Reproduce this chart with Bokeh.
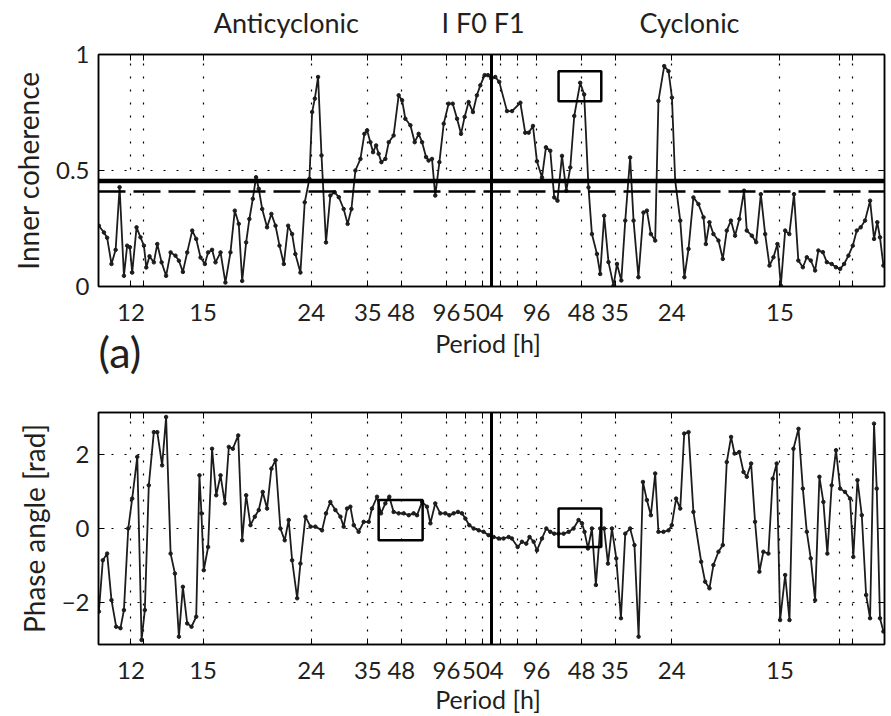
import math
from bokeh.plotting import figure
from bokeh.models import Range1d, FixedTicker, LinearAxis, Span, CustomJSTickFormatter
from bokeh.layouts import column
from bokeh.core.properties import value
from bokeh.embed import file_html
from bokeh.resources import INLINE

# ---------------- data (frequency in cycles per day; negative = anticyclonic) ----------------
coh_freq = [-2.178, -2.150, -2.132, -2.108, -2.085, -2.063, -2.039, -2.021, -2.006, -1.993, -1.969, -1.947,
            -1.928, -1.915, -1.897, -1.873, -1.854, -1.830, -1.805, -1.780, -1.753, -1.734, -1.712, -1.688,
            -1.660, -1.638, -1.614, -1.590, -1.572, -1.550, -1.531, -1.503, -1.476, -1.448, -1.424, -1.402,
            -1.383, -1.361, -1.343, -1.324, -1.306, -1.291, -1.272, -1.245, -1.221, -1.198, -1.176, -1.152,
            -1.128, -1.106, -1.088, -1.060,
            -1.036, -1.010, -0.995, -0.980, -0.962, -0.943, -0.918, -0.894, -0.870, -0.847, -0.820, -0.798,
            -0.777, -0.755, -0.727, -0.705, -0.690, -0.672, -0.657, -0.640, -0.626, -0.611, -0.589, -0.570,
            -0.543, -0.515, -0.496, -0.478, -0.450, -0.426, -0.404, -0.385, -0.363, -0.349, -0.330, -0.312,
            -0.289, -0.265, -0.238, -0.215, -0.191, -0.169, -0.149, -0.127, -0.103, -0.081, -0.062, -0.038,
            -0.020, -0.001, 0.021, 0.043,
            0.086, 0.114, 0.160, 0.187, 0.206, 0.230, 0.252, 0.280, 0.302, 0.326, 0.348, 0.366, 0.391, 0.415,
            0.437, 0.459, 0.492, 0.514, 0.538, 0.557, 0.585, 0.603, 0.625, 0.649, 0.677, 0.696, 0.720, 0.742,
            0.769, 0.788, 0.815, 0.843, 0.862, 0.884, 0.908, 0.926, 0.958, 0.982, 1.001, 1.019, 1.047, 1.070,
            1.093, 1.120, 1.148, 1.176, 1.189, 1.209, 1.231, 1.259, 1.283, 1.305, 1.328, 1.351, 1.375, 1.401,
            1.416, 1.444, 1.468, 1.494, 1.518, 1.542, 1.564, 1.586, 1.605, 1.629, 1.652, 1.678, 1.702, 1.727,
            1.749, 1.771, 1.795, 1.813, 1.838, 1.860, 1.887, 1.911, 1.934, 1.956, 1.980, 2.004, 2.026, 2.048,
            2.072, 2.100, 2.122, 2.140, 2.155, 2.174]
coh_val = [0.262, 0.233, 0.21, 0.097, 0.158, 0.428, 0.046, 0.176, 0.169, 0.06, 0.255, 0.212,
           0.176, 0.082, 0.13, 0.104, 0.183, 0.104, 0.046, 0.147, 0.133, 0.111, 0.063, 0.147,
           0.241, 0.205, 0.125, 0.097, 0.147, 0.158, 0.104, 0.147, 0.017, 0.147, 0.327, 0.27,
           0.024, 0.19, 0.291, 0.378, 0.471, 0.421, 0.334, 0.255, 0.313, 0.262, 0.176, 0.097,
           0.262, 0.226, 0.14, 0.06,
           0.363, 0.464, 0.752, 0.81, 0.903, 0.565, 0.19, 0.392, 0.406, 0.385, 0.334, 0.27,
           0.334, 0.5, 0.55, 0.658, 0.673, 0.622, 0.579, 0.608, 0.572, 0.536, 0.55, 0.622,
           0.651, 0.824, 0.803, 0.723, 0.695, 0.622, 0.658, 0.622, 0.558, 0.543, 0.55, 0.392,
           0.536, 0.702, 0.788, 0.788, 0.723, 0.658, 0.731, 0.795, 0.752, 0.824, 0.867, 0.911,
           0.911, 0.896, 0.903, 0.882,
           0.756, 0.756, 0.792, 0.663, 0.663, 0.692, 0.54, 0.47, 0.6, 0.585, 0.384, 0.37, 0.563, 0.413,
           0.513, 0.735, 0.878, 0.828, 0.427, 0.226, 0.14, 0.054, 0.305, 0.105, 0.004, 0.097, 0.026, 0.284,
           0.556, 0.284, 0.04, 0.319, 0.327, 0.226, 0.198, 0.8, 0.95, 0.928, 0.814, 0.456, 0.284, 0.04,
           0.162, 0.384, 0.355, 0.298, 0.183, 0.277, 0.226, 0.198, 0.119, 0.241, 0.284, 0.219, 0.291, 0.413,
           0.241, 0.219, 0.191, 0.398, 0.226, 0.09, 0.126, 0.183, 0.004, 0.241, 0.226, 0.398, 0.112, 0.083,
           0.126, 0.112, 0.069, 0.155, 0.148, 0.105, 0.097, 0.083, 0.076, 0.097, 0.133, 0.176, 0.241, 0.255,
           0.284, 0.37, 0.205, 0.277, 0.212, 0.09]

phase_freq = [-2.178, -2.156, -2.132, -2.108, -2.082, -2.058, -2.039, -2.015, -1.993, -1.965, -1.941, -1.923,
              -1.901, -1.873, -1.854, -1.827, -1.805, -1.780, -1.756, -1.734, -1.712, -1.688, -1.664, -1.638,
              -1.620, -1.609, -1.596, -1.572, -1.550, -1.527, -1.503, -1.479, -1.457, -1.435, -1.405, -1.383,
              -1.361, -1.337, -1.313, -1.291, -1.269, -1.245, -1.221, -1.198, -1.171, -1.147, -1.125, -1.106,
              -1.078, -1.060, -1.032, -1.004, -0.977, -0.940, -0.918, -0.894, -0.866, -0.838, -0.820, -0.801,
              -0.783, -0.764, -0.737, -0.709, -0.681, -0.663, -0.635, -0.613, -0.589, -0.567, -0.543, -0.515,
              -0.487, -0.459, -0.432, -0.413, -0.385, -0.358, -0.339, -0.312, -0.284, -0.256, -0.234, -0.210,
              -0.186, -0.164, -0.145, -0.123, -0.099, -0.071, -0.044, -0.016, 0.012, 0.040, 0.067, 0.095,
              0.113, 0.145, 0.169, 0.193, 0.211, 0.234, 0.252, 0.280, 0.304, 0.326, 0.348, 0.372,
              0.400, 0.428, 0.455, 0.483, 0.502, 0.516, 0.535, 0.557, 0.579, 0.603, 0.625, 0.646,
              0.668, 0.692, 0.718, 0.742, 0.769, 0.793, 0.816, 0.840, 0.862, 0.884, 0.908, 0.926,
              0.954, 0.982, 1.000, 1.024, 1.047, 1.069, 1.093, 1.120, 1.163, 1.185, 1.209, 1.231,
              1.259, 1.283, 1.305, 1.329, 1.348, 1.374, 1.398, 1.416, 1.440, 1.462, 1.486, 1.508,
              1.536, 1.560, 1.582, 1.601, 1.629, 1.653, 1.675, 1.703, 1.727, 1.749, 1.771, 1.795,
              1.819, 1.841, 1.863, 1.887, 1.911, 1.934, 1.961, 1.989, 2.007, 2.030, 2.054, 2.078,
              2.100, 2.122, 2.137, 2.155, 2.174]
phase_val = [-2.25, -0.86, -0.68, -1.94, -2.66, -2.70, -2.21, 0.0, 0.81, 1.94, -3.02, -2.21,
             1.17, 2.61, 2.61, 1.71, 3.02, -0.68, -1.22, -2.93, -1.58, -2.57, -2.66, -2.39,
             1.44, 0.41, -1.13, -0.5, 2.16, 0.9, 1.44, 0.68, 2.21, 2.16, 2.52, -0.32,
             0.9, 0.09, 0.32, 0.5, 0.99, 0.54, 1.62, 1.85, 0.0, -0.32, 0.23, -0.86,
             -1.89, -0.95, 0.32, 0.05, 0.05, -0.05, 0.41, 0.72, 0.5, 0.32, 0.05, 0.54,
             0.59, 0.09, -0.09, 0.18, 0.18, 0.54, 0.86, 0.41, 0.68, 0.86, 0.45, 0.41,
             0.41, 0.36, 0.41, 0.36, 0.72, 0.59, 0.14, 0.68, 0.41, 0.41, 0.36, 0.41,
             0.45, 0.41, 0.27, 0.09, 0.0, -0.05, -0.09, -0.18, -0.23, -0.27, -0.27, -0.23,
             -0.27, -0.5, -0.36, -0.41, -0.23, -0.36, -0.59, -0.27, 0.0, -0.09, -0.14, -0.14,
             -0.14, -0.09, 0.0, 0.23, 0.14, -0.09, -0.54, 0.0, -1.53, 0.0, 0.0, -0.95,
             0.0, -0.81, -2.43, -0.14, 0.0, -0.45, -2.93, 1.26, 0.77, 0.36, 1.49, -0.09,
             -0.09, -0.05, 0.09, 0.81, 0.54, 2.57, 2.61, 0.45, -0.9, -1.44, -1.62, -0.99,
             -0.63, -0.45, 1.8, 2.48, 2.03, 2.07, 1.53, 1.4, 1.76, 0.18, -1.17, -0.63,
             -0.68, 1.35, 1.76, -2.48, -1.26, -2.48, 2.16, 2.7, 1.08, -0.09, -0.81, -1.94,
             1.4, 0.72, -0.68, 1.17, 2.12, 1.08, 0.99, 0.81, -0.77, 1.31, 0.36, -1.8,
             -2.43, 2.84, 1.08, -2.43, -2.79]

# tick periods (hours)
anti_label_periods = [12, 15, 24, 35, 48, 96, 504]
cyc_label_periods = [96, 48, 35, 24, 15]
grid_periods = [12, 12.42, 15, 24, 35, 48, 96, 168, 504]

coh_level_solid = 0.455
coh_level_dashed = 0.41

# highlighted boxes [f_left, f_right, bottom, top]
coh_box = [0.372, 0.609, 0.798, 0.928]
phase_boxes = [[-0.626, -0.382, -0.32, 0.77], [0.372, 0.609, -0.50, 0.54]]

# header texts: (text, frequency position of centre)
header_texts = ["Anticyclonic", "I F0 F1", "Cyclonic"]
header_pos = [-1.138, -0.047, 1.098]

# ---------------- styling ----------------
FONT = "Lato"
TXT = "#231f20"
INK = "#1c1c1c"
W = 891
FL, FR = 98, 7            # frame borders left/right (px)
XLO, XHI = -2.18, 2.18    # frequency range of the plot frames

grid_ticks = sorted([-24.0 / p for p in grid_periods] + [24.0 / p for p in grid_periods])
x_over = {t: "" for t in grid_ticks}
for p in anti_label_periods:
    x_over[-24.0 / p] = str(p)
for p in cyc_label_periods:
    x_over[24.0 / p] = str(p)
blank = CustomJSTickFormatter(code="return ''")


def strip(height):
    """A text-only strip whose frame matches the plot frames horizontally."""
    s = figure(width=W, height=height, x_range=Range1d(XLO, XHI), y_range=Range1d(height, 0),
               output_backend="svg", toolbar_location=None, x_axis_type=None, y_axis_type=None,
               min_border_left=FL, min_border_right=FR, min_border_top=0, min_border_bottom=0)
    s.outline_line_color = None
    s.xgrid.visible = False
    s.ygrid.visible = False
    return s


def base_fig(height, yr, yticks, ylabels, ylabel, top_border, bottom_border):
    p = figure(width=W, height=height, x_range=Range1d(XLO, XHI), y_range=Range1d(*yr),
               output_backend="svg", toolbar_location=None,
               min_border_left=FL, min_border_right=FR,
               min_border_top=top_border, min_border_bottom=bottom_border)
    p.outline_line_color = "black"
    p.outline_line_width = 1.5
    xa = p.xaxis[0]
    xa.ticker = FixedTicker(ticks=grid_ticks)
    xa.major_label_overrides = x_over
    ya = p.yaxis[0]
    ya.ticker = FixedTicker(ticks=yticks)
    ya.major_label_overrides = {t: l for t, l in zip(yticks, ylabels)}
    ya.axis_label = ylabel
    ya.axis_label_standoff = 8
    ya.axis_label_text_font = FONT
    ya.axis_label_text_font_size = "28px"
    ya.axis_label_text_font_style = "normal"
    ya.axis_label_text_color = TXT
    for ax, standoff in ((xa, 17), (ya, 9)):
        ax.major_tick_in = 6
        ax.major_tick_out = 0
        ax.minor_tick_line_color = None
        ax.axis_line_color = "black"
        ax.axis_line_width = 1.5
        ax.major_tick_line_color = "black"
        ax.major_label_standoff = standoff
        ax.major_label_text_font = FONT
        ax.major_label_text_font_size = "24px"
        ax.major_label_text_color = TXT
    top = LinearAxis(ticker=FixedTicker(ticks=grid_ticks), formatter=blank, major_tick_in=6,
                     major_tick_out=0, minor_tick_line_color=None, major_label_standoff=0,
                     major_label_text_font_size="1px", axis_line_color="black", axis_line_width=1.5)
    right = LinearAxis(ticker=FixedTicker(ticks=yticks), formatter=blank, major_tick_in=6,
                       major_tick_out=0, minor_tick_line_color=None, major_label_standoff=0,
                       major_label_text_font_size="1px", axis_line_color="black", axis_line_width=1.5)
    p.add_layout(top, "above")
    p.add_layout(right, "right")
    p.xgrid.ticker = FixedTicker(ticks=grid_ticks)
    p.ygrid.ticker = FixedTicker(ticks=yticks)
    for g in (p.xgrid, p.ygrid):
        g.grid_line_color = "black"
        g.grid_line_dash = "2 11"
        g.grid_line_width = 1.2
        g.grid_line_alpha = 1.0
    p.add_layout(Span(location=0, dimension="height", line_color="black", line_width=3))
    return p


def put_text(s, texts, xs, y, size, align="center"):
    s.text(x=xs, y=[y] * len(texts), text=texts, text_font=value(FONT), text_font_size=value(size),
           text_color=TXT, text_align=align, text_baseline="alphabetic")


# ---------------- header ----------------
header = strip(40)
put_text(header, header_texts, header_pos, 22, "27px")

# ---------------- (a) inner coherence ----------------
p1 = base_fig(286, (0, 1), [0, 0.5, 1], ["0", "0.5", "1"], "Inner coherence", 14, 40)
p1.add_layout(Span(location=coh_level_solid, dimension="width", line_color="black", line_width=4.5))
p1.add_layout(Span(location=coh_level_dashed, dimension="width", line_color="black", line_width=2.5,
                   line_dash="27 8"))
p1.line(coh_freq, coh_val, line_color=INK, line_width=1.8)
p1.scatter(coh_freq, coh_val, size=3.5, color=INK)
p1.quad(left=[coh_box[0]], right=[coh_box[1]], bottom=[coh_box[2]], top=[coh_box[3]],
        fill_color=None, line_color="black", line_width=2.5)

# ---------------- middle strip: panel tag and x label ----------------
mid = strip(76)
put_text(mid, ["(a)"], [XLO], 25, "43px", align="left")
put_text(mid, ["Period [h]"], [-0.019], 16, "25px")

# ---------------- phase angle ----------------
p2 = base_fig(282, (-math.pi, math.pi), [-2, 0, 2], ["\u22122", "0", "2"], "Phase angle [rad]", 10, 40)
p2.line(phase_freq, phase_val, line_color=INK, line_width=1.8)
p2.scatter(phase_freq, phase_val, size=3.5, color=INK)
p2.quad(left=[b[0] for b in phase_boxes], right=[b[1] for b in phase_boxes],
        bottom=[b[2] for b in phase_boxes], top=[b[3] for b in phase_boxes],
        fill_color=None, line_color="black", line_width=2.5)

footer = strip(32)
put_text(footer, ["Period [h]"], [-0.019], 14, "25px")

layout = column(header, p1, mid, p2, footer, spacing=0)
open("out.html", "w").write(file_html(layout, INLINE))
